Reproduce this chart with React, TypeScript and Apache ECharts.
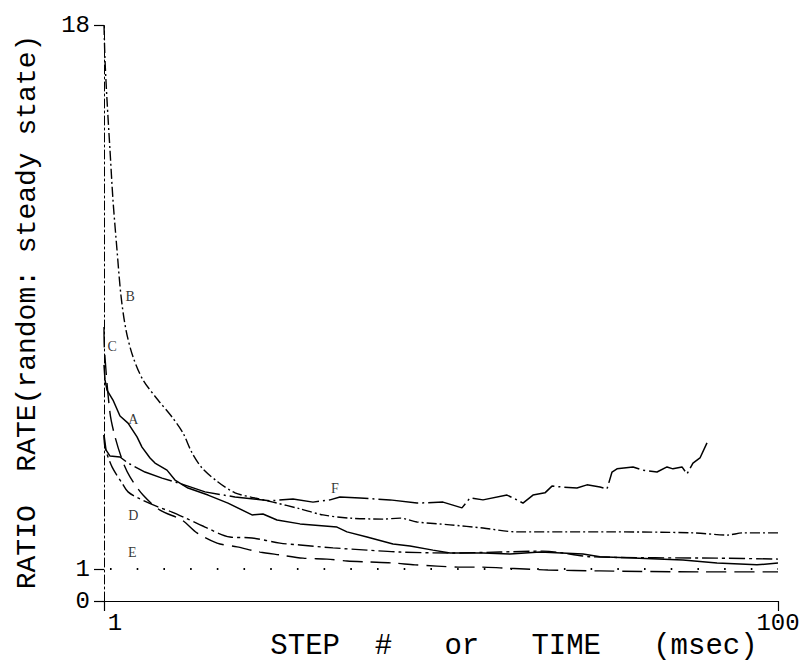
import React, { useEffect, useRef } from "react";
import * as echarts from "echarts";

const xTicks = [1, 100];
const yTicks = [0, 1, 18];

const curveA: [number, number][] = [
  [1, 7.38], [1.15, 6.91], [1.44, 6.59], [2.32, 6.28], [3.35, 5.78], [4.53, 5.56],
  [5.85, 5.13], [6.58, 4.81], [7.76, 4.47], [8.49, 4.31], [10.25, 4.09], [11.43, 3.78],
  [13.34, 3.53], [16.28, 3.31], [19.21, 3.06], [22.74, 2.69], [24.35, 2.72], [26.41, 2.53],
  [29.79, 2.41], [35.22, 2.31], [36.69, 2.16], [39.63, 2.0], [43.45, 1.78], [45.95, 1.72],
  [49.32, 1.59], [51.82, 1.5], [56.67, 1.5], [60.63, 1.47], [65.04, 1.53], [71.36, 1.47],
  [73.85, 1.38], [78.7, 1.34], [86.04, 1.28], [91.04, 1.19], [96.91, 1.13], [100, 1.19],
];

const curveB: [number, number][] = [
  [1, 18], [1.15, 16.9], [1.44, 15.66], [1.88, 14.09], [2.32, 12.53], [2.91, 10.97],
  [3.5, 9.53], [4.23, 8.47], [5.26, 7.63], [6.73, 6.91], [8.93, 6.28], [10.99, 5.75],
  [12.6, 5.25], [13.93, 4.63], [15.39, 4.16], [17.74, 3.72], [20.24, 3.38], [23.18, 3.22],
  [25.82, 3.09], [29.8, 2.88], [33.17, 2.69], [37.13, 2.59], [41.98, 2.56], [44.48, 2.59],
  [46.97, 2.47], [51.82, 2.38], [56.67, 2.28], [61.66, 2.16], [69.0, 2.16], [75.3, 2.16],
  [87.5, 2.13], [92.5, 2.06], [94.9, 2.13], [100, 2.13],
];

const curveC: [number, number][] = [
  [1, 8.56], [1.07, 7.84], [1.88, 5.88], [2.62, 5.13], [3.79, 4.34], [4.82, 3.88],
  [6.73, 3.31], [9.23, 2.84], [12.46, 2.53], [14.66, 2.13], [17.6, 1.81], [20.54, 1.69],
  [23.91, 1.53], [26.85, 1.44], [30.23, 1.34], [33.75, 1.31], [36.69, 1.25], [40.07, 1.22],
  [43.3, 1.19], [46.68, 1.13], [49.91, 1.09], [53.0, 1.06], [56.52, 1.06], [59.61, 1.03],
  [62.84, 1.0], [66.21, 0.97], [73.85, 0.94], [88.54, 0.91], [100, 0.91],
];

const curveD: [number, number][] = [
  [1, 5.19], [1.15, 4.81], [2.18, 4.19], [3.64, 3.69], [4.53, 3.41], [6.0, 3.22],
  [8.93, 2.94], [10.99, 2.78], [12.6, 2.63], [15.84, 2.31], [19.51, 2.0], [22.74, 1.97],
  [26.85, 1.81], [29.79, 1.75], [34.64, 1.66], [39.63, 1.59], [44.48, 1.53], [51.82, 1.5],
  [59.16, 1.53], [65.48, 1.56], [72.82, 1.38], [91.04, 1.34], [100, 1.31],
];

const curveE: [number, number][] = [
  [1.88, 1], [100, 1],
];

const curveF: [number, number][] = [
  [1, 5.19], [1.29, 4.72], [1.88, 4.53], [3.35, 4.5], [4.53, 4.31], [7.02, 4.03],
  [9.52, 3.84], [11.43, 3.72], [13.34, 3.59], [15.84, 3.41], [20.24, 3.25], [25.38, 3.13],
  [28.76, 3.19], [31.7, 3.09], [34.2, 3.16], [35.66, 3.25], [38.6, 3.22], [43.01, 3.16],
  [46.97, 3.06], [50.79, 3.09], [53.58, 2.91], [54.76, 3.22], [56.67, 3.16], [60.19, 3.31],
  [61.66, 3.16], [62.54, 3.06], [64.01, 3.31], [65.77, 3.38], [66.8, 3.59], [68.42, 3.56],
  [70.47, 3.53], [71.94, 3.63], [73.85, 3.56], [74.88, 3.5], [75.62, 4.03], [76.35, 4.13],
  [78.7, 4.19], [80.17, 4.09], [82.23, 4.03], [83.7, 4.19], [84.57, 4.13], [85.9, 4.19],
  [86.63, 3.97], [87.51, 4.31], [88.54, 4.47], [89.57, 4.94],
];

const curveLabels: [number, number, string][] = [
  [5.3, 5.66, "A"],
  [4.85, 9.53, "B"],
  [2.2, 7.94, "C"],
  [5.3, 2.66, "D"],
  [5.15, 1.53, "E"],
  [34.9, 3.53, "F"],
];

const xTitle = "STEP  #   or   TIME   (msec)";
const yTitle = "RATIO  RATE(random: steady state)";

const MONO = '"Liberation Mono", "DejaVu Sans Mono", monospace';
const SERIF = '"Liberation Serif", "DejaVu Serif", serif';

function lineSeries(name: string, data: [number, number][], type: any, smooth: number | boolean, width = 1.4) {
  return {
    name,
    type: "line",
    data,
    showSymbol: false,
    symbol: "none",
    smooth,
    lineStyle: { color: "#000", width, type },
    z: 3,
  };
}

export default function App() {
  const ref = useRef<HTMLDivElement>(null);
  useEffect(() => {
    const chart = echarts.init(ref.current!, null, { renderer: "svg" });
    chart.setOption({
      animation: false,
      backgroundColor: "#fff",
      grid: { left: 104, right: 27, top: 25, bottom: 63, containLabel: false, outerBoundsMode: "none" },
      xAxis: {
        type: "value",
        min: 1,
        max: 100,
        splitLine: { show: false },
        axisLine: { show: true, lineStyle: { color: "#000", width: 1.2 } },
        axisTick: { show: true, customValues: xTicks, length: 10, inside: false, lineStyle: { color: "#000", width: 1.2 } },
        axisLabel: {
          show: true,
          customValues: xTicks,
          margin: 10,
          color: "#000",
          fontFamily: MONO,
          fontSize: 24,
          formatter: (v: number) => (v === 1 ? "{a|1}" : "{b|100}"),
          rich: {
            a: { fontFamily: MONO, fontSize: 24, color: "#000", padding: [0, 0, 0, 22] },
            b: { fontFamily: MONO, fontSize: 24, color: "#000" },
          },
        },
      },
      yAxis: {
        type: "value",
        min: 0,
        max: 18,
        splitLine: { show: false },
        axisLine: { show: true, lineStyle: { color: "#000", width: 1, type: [9, 3, 2, 3] } },
        axisTick: { show: true, customValues: yTicks, length: 10, lineStyle: { color: "#000", width: 1.2 } },
        axisLabel: {
          show: true,
          customValues: yTicks,
          margin: 14,
          color: "#000",
          fontFamily: MONO,
          fontSize: 24,
        },
      },
      graphic: [
        {
          type: "text",
          x: 514,
          y: 646,
          style: { text: xTitle, font: `29px ${MONO}`, fill: "#000", textAlign: "center", textVerticalAlign: "middle" },
        },
        {
          type: "text",
          x: 27,
          y: 312,
          rotation: Math.PI / 2,
          style: { text: yTitle, font: `28px ${MONO}`, fill: "#000", textAlign: "center", textVerticalAlign: "middle" },
        },
      ],
      series: [
        lineSeries("A", curveA, "solid", false, 1.5),
        lineSeries("B", curveB, [10, 3, 2, 3], 0.3),
        lineSeries("C", curveC, [20, 8], 0.3),
        lineSeries("D", curveD, [16, 4, 3, 4], 0.3),
        lineSeries("E", curveE, [1.6, 25.1], false, 2),
        lineSeries("F", curveF, [40, 4, 2, 4], false, 1.5),
        {
          name: "labels",
          type: "scatter",
          data: curveLabels,
          symbolSize: 2,
          itemStyle: { color: "rgba(0,0,0,0)" },
          label: {
            show: true,
            position: "inside",
            formatter: (p: any) => p.value[2],
            color: "#000",
            textBorderWidth: 0,
            textBorderColor: "transparent",
            fontFamily: SERIF,
            fontSize: 14,
          },
          emphasis: { disabled: true },
          z: 5,
        },
      ],
    });
    return () => chart.dispose();
  }, []);
  return (
    <div
      ref={ref}
      style={{ position: "absolute", left: 0, top: 0, width: 805, height: 664, background: "#fff" }}
    />
  );
}
